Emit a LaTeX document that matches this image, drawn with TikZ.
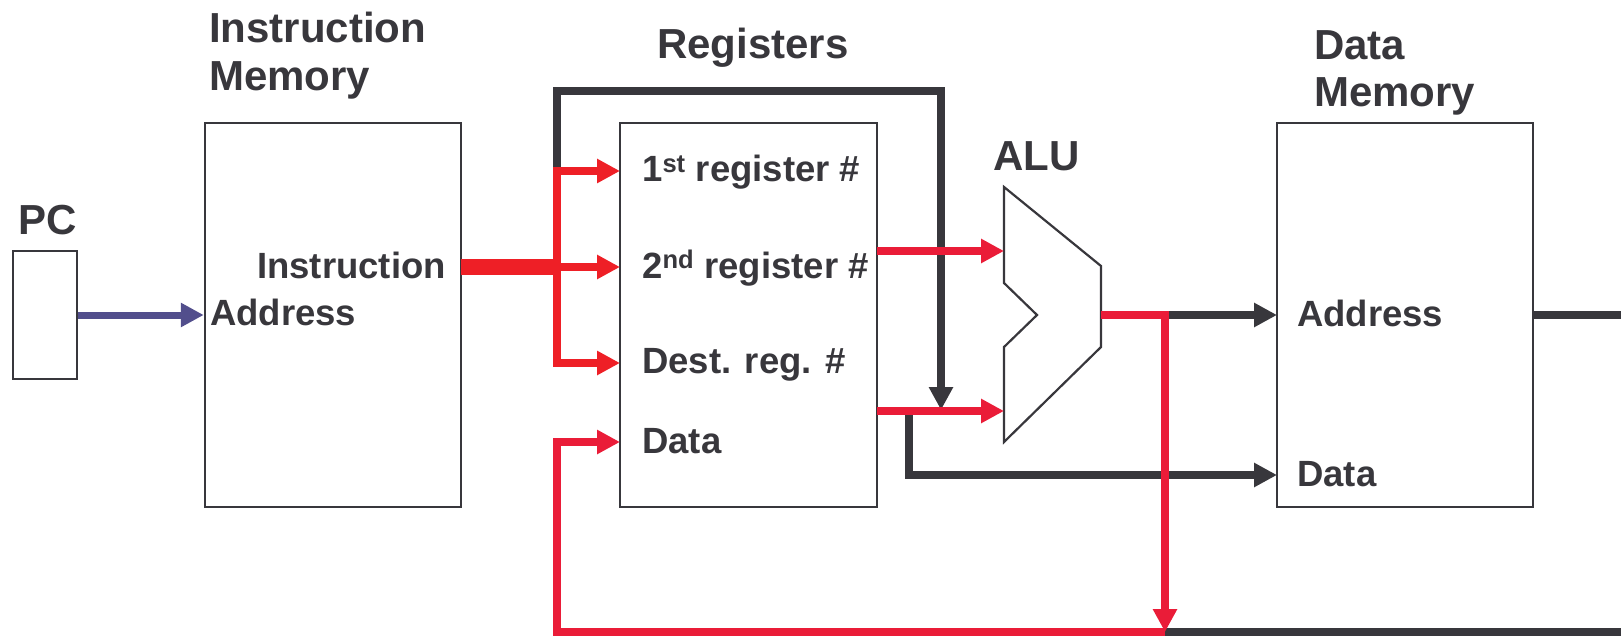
\documentclass[tikz,border=0pt]{standalone}
\usepackage{fontspec}
\setmainfont{Liberation Sans}
\usetikzlibrary{arrows.meta}
\definecolor{ink}{HTML}{38373C}
\definecolor{busred}{HTML}{EE1F26}
\definecolor{sigred}{HTML}{EA1C38}
\definecolor{pcblue}{HTML}{524E8C}
\tikzset{
  unitbox/.style={draw=ink, line width=2.5pt, fill=white, inner sep=0pt},
  title/.style={anchor=base west, inner sep=0pt, text=ink, font=\fontsize{42}{48}\selectfont\bfseries},
  port/.style={anchor=base west, inner sep=0pt, text=ink, font=\fontsize{36.5}{42}\selectfont\bfseries},
  tip/.style={-{Triangle[length=23pt,width=23pt]}},
  wire/.style={line width=7.5pt, draw=ink, line join=miter},
  redwire/.style={line width=7.5pt, draw=sigred, line join=miter},
  buswire/.style={line width=7.5pt, draw=busred, line join=miter},
  bluewire/.style={line width=7pt, draw=pcblue},
}
\begin{document}
\begin{tikzpicture}[x=1pt, y=-1pt]
\useasboundingbox (0,0) rectangle (1621,636);

% --- functional units ---
\node[unitbox, minimum width=64pt,  minimum height=128pt] (pc)   at (45,315)    {};
\node[unitbox, minimum width=256pt, minimum height=384pt] (imem) at (333,315)   {};
\node[unitbox, minimum width=257pt, minimum height=384pt] (regs) at (748.5,315) {};
\node[unitbox, minimum width=256pt, minimum height=384pt] (dmem) at (1405,315)  {};

% ALU outline
\draw[draw=ink, line width=2.2pt, fill=white, line join=miter]
  (1004,187) -- (1101,266) -- (1101,347) -- (1004,442) -- (1004,347)
  -- (1037,315) -- (1004,283) -- cycle;
\coordinate (alu-a)   at (1004,251);
\coordinate (alu-b)   at (1004,411);
\coordinate (alu-out) at (1101,315);

% --- titles ---
\node[title] (pc-t)    at (18,235)   {PC};
\node[title] (imem-t1) at (209,43)   {Instruction};
\node[title] (imem-t2) at (209,91)   {Memory};
\node[title] (regs-t)  at (657,59)   {Registers};
\node[title] (alu-t)   at (993,171)  {ALU};
\node[title] (dmem-t1) at (1314,60)  {Data};
\node[title] (dmem-t2) at (1314,107) {Memory};

% --- port labels ---
\node[port] (imem-instr) at (257,278)  {Instruction};
\node[port] (imem-addr)  at (210,325)  {Address};
\node[port] (regs-r1)    at (642,182)  {1\textsuperscript{st} register \#};
\node[port] (regs-r2)    at (642,278)  {2\textsuperscript{nd} register \#};
\node[port] (regs-rd)    at (642,373)  {Dest. reg. \#};
\node[port] (regs-data)  at (642,453)  {Data};
\node[port] (dmem-addr)  at (1297,326) {Address};
\node[port] (dmem-data)  at (1297,486) {Data};

% --- wire junctions and port points ---
\coordinate (imem-out) at (461,267);
\coordinate (split)    at (557,267);
\coordinate (imm)      at (557,171);
\coordinate (in-r1)    at (620,171);
\coordinate (in-r2)    at (620,267);
\coordinate (in-rd)    at (620,363);
\coordinate (in-wd)    at (620,442);
\coordinate (out-a)    at (877,251);
\coordinate (out-b)    at (877,411);
\coordinate (fb-tip)   at (941,410);
\coordinate (st-tap)   at (909,411);
\coordinate (dm-addr)  at (1277,315);
\coordinate (dm-data)  at (1277,475);
\coordinate (res-tap)  at (1165,315);
\coordinate (wb-join)  at (1165,632);
\coordinate (wb-left)  at (557,632);
\coordinate (dm-out)   at (1533,315);
\coordinate (edge-top) at (1621,315);
\coordinate (edge-bot) at (1621,632);

% --- dark wires (underneath the red ones) ---
\draw[wire, tip] (imm) -- ++(0,-80) -| (fb-tip);
\draw[wire, tip] (st-tap) |- (dm-data);
\draw[wire, tip] (res-tap) -- (dm-addr);
\draw[wire] (dm-out) -- (edge-top);
\draw[wire] (wb-join) -- (edge-bot);

% --- program counter to instruction memory ---
\draw[bluewire, tip] (pc.east) -- (imem.west);

% --- instruction fields to register file ---
\draw[draw=busred, line width=16pt] (imem-out) -- ([xshift=4pt]split);
\draw[buswire, tip] (split) |- (in-r1);
\draw[buswire, tip] (split) -- (in-r2);
\draw[buswire, tip] (split) |- (in-rd);

% --- register outputs to ALU ---
\draw[redwire, tip] (out-a) -- (alu-a);
\draw[redwire, tip] (out-b) -- (alu-b);

% --- ALU result and write-back loop ---
\draw[redwire] (alu-out) -- ([xshift=4pt]res-tap);
\draw[redwire, tip] (res-tap) -- (wb-join);
\draw[redwire, tip] (wb-join) -| (wb-left) |- (in-wd);
\end{tikzpicture}
\end{document}
